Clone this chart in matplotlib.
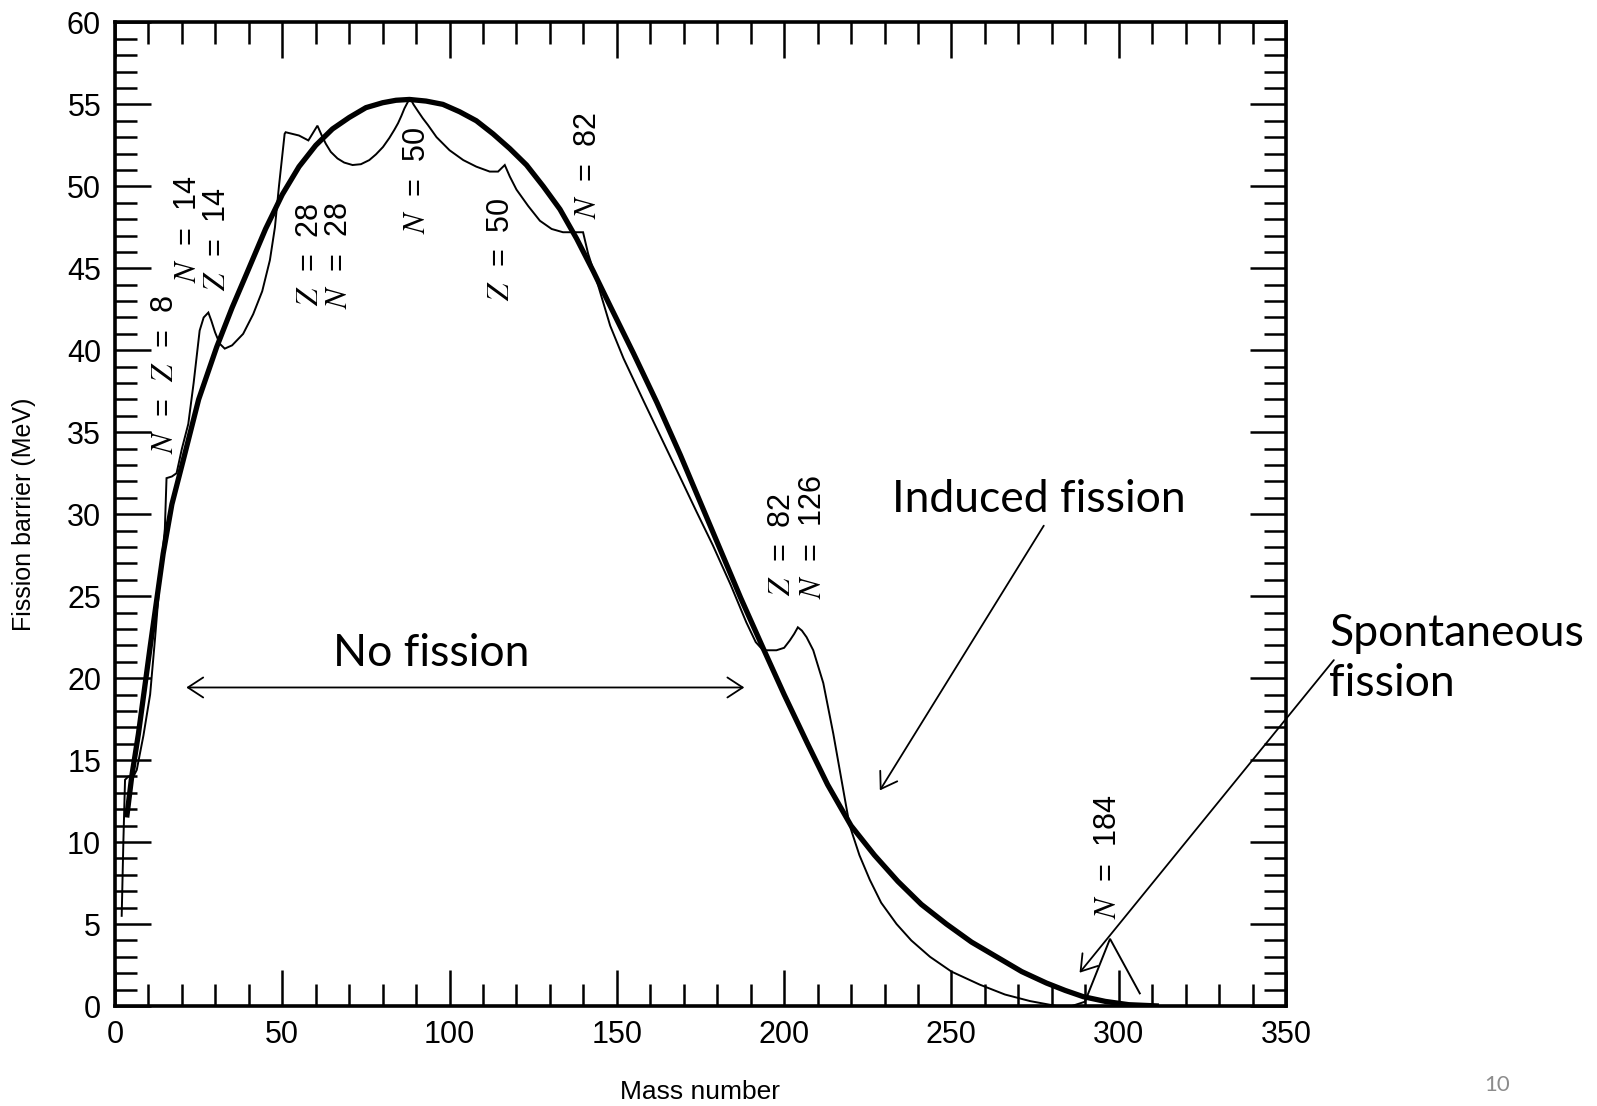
import matplotlib
matplotlib.use("Agg")
import matplotlib.pyplot as plt
from matplotlib.ticker import MultipleLocator

plt.rcParams["font.family"] = ["Liberation Sans", "DejaVu Sans"]
plt.rcParams["mathtext.fontset"] = "stix"

# Liquid-drop fission barrier (thick smooth curve)
mass_ld = [3.5, 5, 7, 10.5, 14.4, 17, 20.4, 25, 30.4, 35, 39.4, 45, 50, 55, 60, 65,
           70, 75, 80, 84, 88, 93, 98, 103, 108, 113, 118, 123, 128, 133, 138, 143,
           148, 155, 162, 169, 175, 181, 187, 194, 200, 207, 213, 220, 227, 234,
           241, 248.5, 256, 263.5, 271, 278.4, 284, 289.4, 296, 303, 312]
barrier_ld = [11.5, 14.0, 16.6, 21.9, 27.6, 30.6, 33.3, 37.0, 40.2, 42.6, 44.7, 47.4,
              49.5, 51.2, 52.5, 53.5, 54.2, 54.8, 55.1, 55.25, 55.3, 55.2, 55.0,
              54.55, 54.0, 53.2, 52.3, 51.3, 50.0, 48.6, 46.8, 44.8, 42.7, 39.8, 36.8,
              33.6, 30.7, 27.8, 24.9, 21.7, 19.0, 16.0, 13.5, 11.0, 9.2, 7.6, 6.2,
              5.0, 3.9, 3.0, 2.1, 1.4, 0.95, 0.57, 0.28, 0.08, 0.0]

# Barrier including shell corrections (thin curve)
mass_sh = [2.0, 2.5, 3.0, 4.0, 5.5, 6.5, 8.5, 10.5, 12.0, 13.4, 14.9, 15.4, 17.0, 18.4,
           20.0, 21.9, 23.5, 25.3, 26.5, 27.9, 28.8, 29.9, 31.3, 32.8, 35.0, 38.3,
           41.3, 44.0, 46.3, 47.8, 49.0, 50.7, 51.0, 55.0, 57.8, 60.5, 61.8, 63.0,
           64.5, 66.5, 68.5, 71.0, 73.5, 76.0, 78.0, 80.1, 82.0, 83.5, 84.6, 85.6,
           86.5, 87.4, 88.2, 89.2, 90.5, 92.0, 93.5, 96.1, 100.0, 104.1, 108.0, 112.0,
           114.5, 116.5, 118.0, 120.0, 123.5, 127.0, 130.5, 133.9, 139.9, 141.4,
           143.9, 148.0, 152.0, 158.0, 163.4, 168.8, 173.7, 178.7, 184.0, 188.7,
           191.5, 193.7, 197.7, 200.0, 201.7, 203.0, 204.1, 205.3, 206.7, 208.7,
           211.7, 214.7, 218.7, 219.6, 222.5, 225.6, 229.0, 233.6, 238.0, 243.6,
           250.0, 258.5, 266.0, 273.5, 281.4, 286.0, 289.9, 297.4, 306.3]
barrier_sh = [5.5, 10.0, 13.8, 14.0, 14.0, 14.4, 16.5, 19.0, 22.5, 26.0, 29.1, 32.2,
              32.3, 32.5, 34.0, 35.5, 38.0, 41.2, 42.0, 42.3, 41.8, 41.1, 40.4, 40.1,
              40.3, 41.0, 42.2, 43.6, 45.5, 47.5, 50.0, 53.2, 53.3, 53.1, 52.8, 53.7,
              53.1, 52.6, 52.1, 51.7, 51.45, 51.3, 51.35, 51.6, 51.95, 52.4, 52.95,
              53.45, 53.85, 54.3, 54.75, 55.1, 55.4, 55.0, 54.6, 54.15, 53.75, 53.0,
              52.2, 51.6, 51.2, 50.9, 50.9, 51.3, 50.6, 49.8, 48.8, 47.9, 47.4, 47.2,
              47.2, 45.9, 44.3, 41.5, 39.5, 36.9, 34.6, 32.3, 30.2, 28.1, 25.7, 23.4,
              22.2, 21.7, 21.7, 21.85, 22.3, 22.7, 23.1, 22.9, 22.5, 21.7, 19.7, 16.6,
              12.0, 11.0, 9.2, 7.7, 6.3, 5.0, 4.0, 3.0, 2.1, 1.3, 0.7, 0.3, 0.0, 0.0,
              0.26, 4.1, 0.77]

# Magic-number labels: (text, mass number, barrier at the label foot)
magic_labels = [
    ("$N$  =  $Z$  =  8", 14.9, 33.7),
    ("$N$  =  14", 21.9, 44.1),
    ("$Z$  =  14", 30.4, 43.6),
    ("$Z$  =  28", 58.4, 42.7),
    ("$N$  =  28", 67.0, 42.5),
    ("$N$  =  50", 90.4, 47.1),
    ("$Z$  =  50", 115.3, 43.0),
    ("$N$  =  82", 141.5, 48.0),
    ("$Z$  =  82", 199.3, 25.0),
    ("$N$  =  126", 208.5, 24.8),
    ("$N$  =  184", 296.7, 5.3),
]

fig = plt.figure(figsize=(15.97, 11.06), dpi=100)
ax = fig.add_axes([115 / 1597, 1 - 1006 / 1106, (1286 - 115) / 1597, (1006 - 22.4) / 1106])

ax.plot(mass_ld, barrier_ld, color="black", lw=3.8, solid_joinstyle="round",
        solid_capstyle="butt", zorder=3)
ax.plot(mass_sh, barrier_sh, color="black", lw=1.4, solid_joinstyle="miter", zorder=3)

ax.set_xlim(0, 350)
ax.set_ylim(0, 60)
ax.xaxis.set_major_locator(MultipleLocator(50))
ax.xaxis.set_minor_locator(MultipleLocator(10))
ax.yaxis.set_major_locator(MultipleLocator(5))
ax.yaxis.set_minor_locator(MultipleLocator(1))
ax.tick_params(which="both", direction="in", top=True, right=True, width=1.8,
               labelsize=22, pad=10)
ax.tick_params(which="major", length=26)
ax.tick_params(which="minor", length=16)
for sp in ax.spines.values():
    sp.set_linewidth(2.6)

ax.set_xlabel("Mass number", fontsize=19, labelpad=22)
ax.set_ylabel("Fission barrier (MeV)", fontsize=18, labelpad=22)

for txt, xm, ym in magic_labels:
    ax.text(xm, ym, txt, rotation=90, ha="center", va="bottom", fontsize=22,
            zorder=4)

callout_font = dict(family=["Lato", "DejaVu Sans"], fontsize=32, color="black")

ax.annotate("", xy=(21.3, 19.43), xytext=(188.1, 19.43),
            arrowprops=dict(arrowstyle="<->,head_length=0.55,head_width=0.36",
                            mutation_scale=20, lw=1.3, color="black",
                            shrinkA=0, shrinkB=0))
ax.text(94.4, 21.5, "No fission", ha="center", va="center", **callout_font)

ax.text(276.1, 30.9, "Induced fission", ha="center", va="center", **callout_font)
ax.annotate("", xy=(228.6, 13.15), xytext=(277.6, 29.3),
            arrowprops=dict(arrowstyle="->,head_length=0.55,head_width=0.36",
                            mutation_scale=20, lw=1.3, color="black",
                            shrinkA=0, shrinkB=0))

ax.text(363.0, 21.2, "Spontaneous\nfission", ha="left", va="center",
        linespacing=1.3, clip_on=False, **callout_font)
ax.annotate("", xy=(288.3, 2.03), xytext=(364.3, 21.1), annotation_clip=False,
            arrowprops=dict(arrowstyle="->,head_length=0.55,head_width=0.36",
                            mutation_scale=20, lw=1.3, color="black",
                            shrinkA=0, shrinkB=0, clip_on=False))

fig.text(1497 / 1597, 1 - 1085 / 1106, "10", ha="center", va="center",
         fontsize=16, color="#8c8c8c", family=["Lato", "DejaVu Sans"])

fig.savefig("out.png", dpi=100, facecolor="white")
